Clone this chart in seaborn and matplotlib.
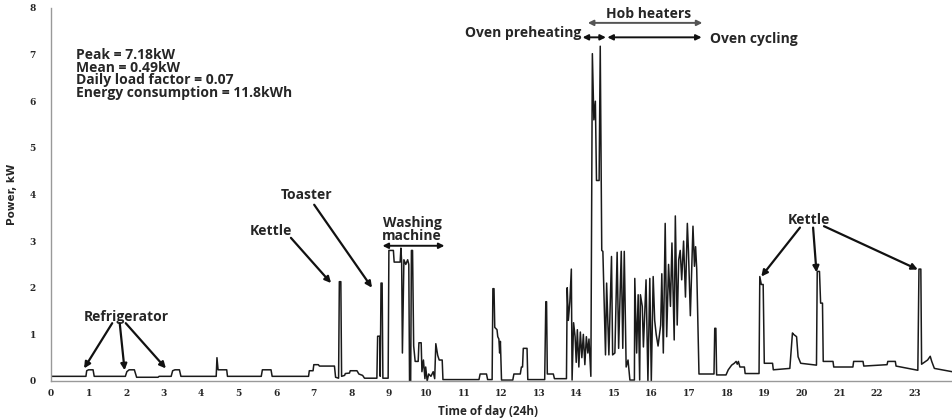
import matplotlib
matplotlib.use("Agg")
import matplotlib.pyplot as plt
import seaborn as sns
import pandas as pd

# household load profile (hour of day, kW)
hours = [
    0, 0.93, 0.95, 1.0, 1.12, 1.15,
    1.98, 2.02, 2.08, 2.22, 2.28, 2.85, 2.88,
    3.2, 3.24, 3.3, 3.42, 3.46,
    4.4, 4.42, 4.45, 4.68, 4.7,
    5.6, 5.63, 5.86, 5.89,
    6.86, 6.88, 6.98, 7.0, 7.12, 7.15, 7.55, 7.58, 7.66,
    7.68, 7.72, 7.74, 7.82, 7.84, 7.95, 7.97, 8.15, 8.2, 8.3, 8.35, 8.68,
    8.7, 8.76, 8.77, 8.79, 8.82, 8.84, 8.98,
    9.0, 9.12, 9.14, 9.3, 9.32, 9.34, 9.36, 9.4, 9.45, 9.5, 9.53,
    9.55, 9.58, 9.6, 9.63, 9.66, 9.7, 9.78, 9.8, 9.86, 9.88, 9.92, 9.96,
    9.98, 10.02, 10.06, 10.12, 10.18, 10.22, 10.25, 10.3, 10.34, 10.42, 10.44,
    11.4, 11.43, 11.6, 11.63, 11.75,
    11.77, 11.8, 11.82, 11.88, 11.9, 11.93, 11.95, 11.97, 12.0,
    12.3, 12.33, 12.5, 12.53, 12.56, 12.58, 12.68, 12.7,
    13.15, 13.18, 13.2, 13.22, 13.38, 13.41, 13.73,
    13.75, 13.78, 13.82, 13.86, 13.88, 13.92, 13.96, 13.99, 14.02, 14.06,
    14.1, 14.14, 14.18, 14.22, 14.26, 14.3, 14.33, 14.38,
    14.42, 14.46, 14.5, 14.53, 14.6, 14.63, 14.67,
    14.7, 14.73, 14.77, 14.8, 14.86, 14.93, 14.96, 15.02, 15.08, 15.12,
    15.19, 15.23, 15.27, 15.32, 15.37, 15.42, 15.54, 15.55, 15.6, 15.64,
    15.68, 15.7, 15.75, 15.78, 15.85, 15.9, 15.95, 15.99, 16.04, 16.08,
    16.12, 16.17, 16.24, 16.27, 16.31, 16.36, 16.4, 16.45, 16.5, 16.54,
    16.6, 16.63, 16.68, 16.72, 16.76, 16.8, 16.85, 16.9, 16.95, 16.98,
    17.03, 17.1, 17.14, 17.17, 17.2, 17.26,
    17.66, 17.68, 17.71, 17.73, 17.98, 18.04, 18.13, 18.2, 18.25, 18.28,
    18.31, 18.35, 18.47, 18.49, 18.86,
    18.88, 18.92, 18.97, 19.0, 19.22, 19.24, 19.68,
    19.75, 19.78, 19.86, 19.9, 19.97, 20.39,
    20.41, 20.47, 20.5, 20.55, 20.57, 20.83, 20.85, 21.36, 21.38,
    21.63, 21.65, 21.85, 22.27, 22.29, 22.49, 22.51, 23.09,
    23.12, 23.17, 23.19, 23.35, 23.42, 23.46, 23.53, 23.94, 24.0,
]
power_kw = [
    0.1, 0.1, 0.22, 0.24, 0.24, 0.1,
    0.1, 0.2, 0.24, 0.24, 0.08, 0.08, 0.1,
    0.1, 0.22, 0.24, 0.24, 0.1,
    0.1, 0.5, 0.24, 0.24, 0.1,
    0.1, 0.24, 0.24, 0.1,
    0.1, 0.22, 0.22, 0.35, 0.35, 0.32, 0.32, 0.08, 0.06,
    2.13, 2.13, 0.1, 0.12, 0.16, 0.17, 0.22, 0.22, 0.15, 0.12, 0.06, 0.06,
    0.96, 0.96, 0.1, 2.1, 2.1, 0.06, 0.06,
    2.8, 2.8, 2.55, 2.55, 2.85, 2.55, 0.6, 2.6, 2.5, 2.6, 2.5,
    0.0, 0.0, 2.8, 2.8, 0.75, 0.42, 0.42, 0.82, 0.82, 0.2, 0.45, 0.05,
    0.3, 0.0, 0.15, 0.1, 0.2, 0.05, 0.8, 0.55, 0.45, 0.45, 0.03,
    0.03, 0.15, 0.15, 0.03, 0.03,
    1.98, 1.98, 1.15, 1.1, 0.95, 0.9, 0.6, 0.85, 0.02,
    0.02, 0.15, 0.15, 0.3, 0.3, 0.7, 0.7, 0.03,
    0.03, 1.7, 1.7, 0.15, 0.15, 0.05, 0.05,
    2.0, 1.3, 1.7, 2.4, 0.02, 1.25, 0.95, 0.4, 1.1, 0.3,
    1.05, 0.5, 1.0, 0.35, 0.95, 0.6, 0.9, 0.1,
    7.02, 5.6, 6.0, 4.3, 4.3, 7.18, 2.8,
    2.78, 1.85, 0.56, 2.1, 0.56, 2.67, 0.56, 0.6, 2.76, 0.7,
    2.78, 0.7, 2.78, 0.3, 0.45, 0.02, 0.02, 2.2, 0.6, 1.85,
    0.02, 1.85, 1.6, 0.73, 2.17, 0.0, 2.2, 0.0, 2.24, 1.3,
    1.0, 0.75, 1.2, 2.3, 0.6, 3.38, 0.95, 2.5, 1.6, 2.96,
    0.88, 3.54, 1.2, 2.6, 2.8, 2.17, 3.0, 1.8, 3.38, 2.78,
    1.4, 3.32, 2.46, 2.88, 2.4, 0.15,
    0.15, 1.13, 1.13, 0.13, 0.13, 0.24, 0.34, 0.38, 0.42, 0.36,
    0.42, 0.3, 0.3, 0.16, 0.16,
    2.24, 2.07, 2.07, 0.38, 0.38, 0.24, 0.27,
    1.03, 1.0, 0.95, 0.52, 0.38, 0.34,
    2.35, 2.35, 1.67, 1.67, 0.42, 0.42, 0.3, 0.3, 0.42,
    0.42, 0.32, 0.33, 0.35, 0.42, 0.42, 0.32, 0.23,
    2.4, 2.4, 0.36, 0.45, 0.53, 0.42, 0.27, 0.21, 0.2,
]

stats_lines = ["Peak = 7.18kW", "Mean = 0.49kW",
               "Daily load factor = 0.07", "Energy consumption = 11.8kWh"]
x_ticks = list(range(0, 24))
y_ticks = list(range(0, 9))

sns.set_style("white")
plt.rcParams['font.family'] = ['Open Sans', 'DejaVu Sans']

df = pd.DataFrame({'hour': hours, 'kW': power_kw})

fig = plt.figure(figsize=(9.52, 4.19), dpi=100)
ax = fig.add_axes([0.0536, 0.0907, 0.9464, 0.8903])

sns.lineplot(data=df, x='hour', y='kW', estimator=None, sort=False,
             color='#1a1a1a', linewidth=1.1, ax=ax)

ax.set_xlim(0, 24)
ax.set_ylim(0, 8)
ax.set_xticks(x_ticks)
ax.set_yticks(y_ticks)
ax.tick_params(axis='x', length=0, pad=6, labelsize=6.5)
ax.tick_params(axis='y', length=3, width=0.8, color='#999999', pad=8, labelsize=6.5)
for lab in ax.get_xticklabels() + ax.get_yticklabels():
    lab.set_fontweight('bold')
    lab.set_family(['DejaVu Serif'])
sns.despine(ax=ax)
for s in ['left', 'bottom']:
    ax.spines[s].set_color('#999999')
    ax.spines[s].set_linewidth(1.0)

ax.set_xlabel('Time of day (24h)', fontsize=8.5, fontweight='bold')
ax.xaxis.set_label_coords(0.485, -0.065)
ax.set_ylabel('Power, kW', fontsize=7.5, fontweight='bold',
              family=['Liberation Sans Narrow', 'DejaVu Sans'])
ax.yaxis.set_label_coords(-0.038, 0.5)

ax.text(0.67, 7.14, "\n".join(stats_lines), fontsize=10, fontweight='bold',
        va='top', ha='left', linespacing=0.88)

arrow = dict(arrowstyle='-|>', color='#111111', lw=1.6, mutation_scale=9,
             shrinkA=0, shrinkB=0)
both = dict(arrowstyle='<|-|>', color='#111111', lw=1.4, mutation_scale=8,
            shrinkA=0, shrinkB=0)
tkw = dict(fontsize=10, fontweight='bold', ha='center', va='center')

# refrigerator
ax.text(2.0, 1.38, 'Refrigerator', **tkw)
ax.annotate('', xy=(0.88, 0.27), xytext=(1.63, 1.24), arrowprops=arrow)
ax.annotate('', xy=(1.96, 0.23), xytext=(1.83, 1.24), arrowprops=arrow)
ax.annotate('', xy=(3.06, 0.27), xytext=(1.99, 1.24), arrowprops=arrow)

# morning kettle and toaster
ax.text(5.85, 3.22, 'Kettle', **tkw)
ax.annotate('', xy=(7.46, 2.1), xytext=(6.39, 3.07), arrowprops=arrow)
ax.text(6.8, 3.98, 'Toaster', **tkw)
ax.annotate('', xy=(8.55, 2.0), xytext=(7.01, 3.78), arrowprops=arrow)

# washing machine
ax.text(9.62, 3.25, 'Washing\nmachine', linespacing=0.85, **tkw)
ax.annotate('', xy=(8.83, 2.9), xytext=(10.48, 2.9), arrowprops=both)

# cooking
ax.text(15.92, 7.86, 'Hob heaters', **tkw)
ax.annotate('', xy=(14.3, 7.68), xytext=(17.35, 7.68),
            arrowprops=dict(both, color='#555555'))
ax.text(14.12, 7.47, 'Oven preheating', fontsize=10, fontweight='bold',
        ha='right', va='center')
ax.annotate('', xy=(14.16, 7.37), xytext=(14.78, 7.37), arrowprops=both)
ax.annotate('', xy=(14.82, 7.37), xytext=(17.33, 7.37), arrowprops=both)
ax.text(17.55, 7.33, 'Oven cycling', fontsize=10, fontweight='bold',
        ha='left', va='center')

# evening kettle
ax.text(20.2, 3.46, 'Kettle', **tkw)
ax.annotate('', xy=(18.92, 2.24), xytext=(19.95, 3.29), arrowprops=arrow)
ax.annotate('', xy=(20.39, 2.33), xytext=(20.3, 3.29), arrowprops=arrow)
ax.annotate('', xy=(23.09, 2.39), xytext=(20.59, 3.32), arrowprops=arrow)

fig.savefig('out.png', dpi=100)
